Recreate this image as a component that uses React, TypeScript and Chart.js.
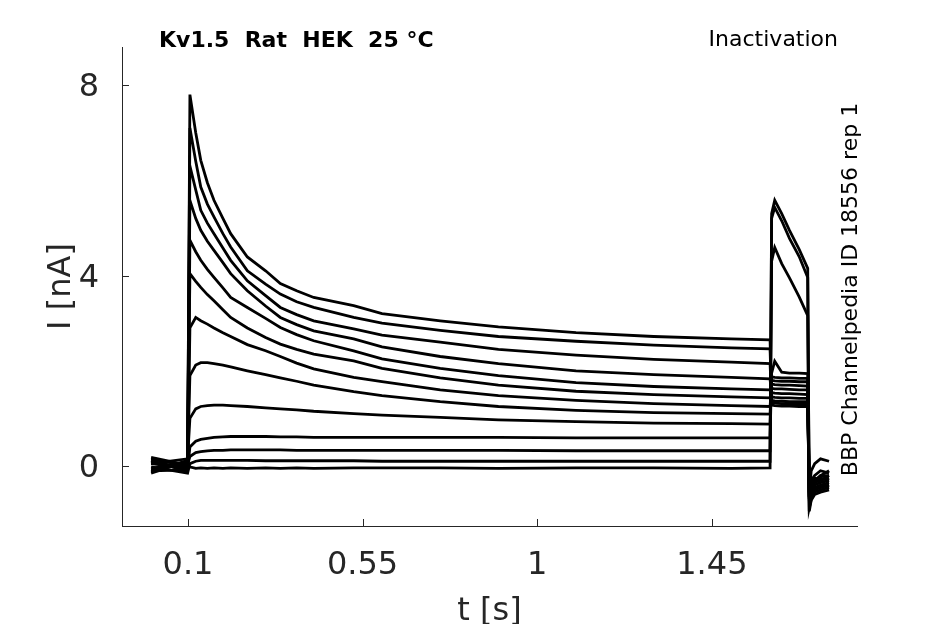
import { useEffect, useRef } from "react"
import { Chart, registerables } from "chart.js"

Chart.register(...registerables)

// sample times [s], shared by every sweep
const TIME_S = [
  0.005, 0.099, 0.105, 0.12, 0.133, 0.15, 0.167, 0.19, 0.21, 0.253, 0.3, 0.338, 0.38, 0.424, 0.527, 0.6, 0.75,
  0.9, 1.1, 1.3, 1.5, 1.6, 1.604, 1.612, 1.63, 1.65, 1.675, 1.697, 1.701, 1.706, 1.715, 1.73, 1.752,
]

// current [nA] for each sweep
const sweepA = [
  0.05, -0.05, 7.8, 7.0, 6.42, 5.95, 5.58, 5.2, 4.88, 4.39, 4.1, 3.83, 3.68, 3.54, 3.37, 3.2, 3.05, 2.92, 2.8,
  2.72, 2.67, 2.65, 1.28, 1.27, 1.26, 1.26, 1.25, 1.25, -0.6, -0.45, -0.35, -0.3, -0.25,
]
const sweepB = [
  -0.05, 0.08, 7.1, 6.4, 5.86, 5.5, 5.23, 4.88, 4.6, 4.1, 3.82, 3.61, 3.45, 3.33, 3.12, 3.0, 2.85, 2.72, 2.62,
  2.54, 2.48, 2.46, 1.33, 1.32, 1.31, 1.3, 1.3, 1.3, -0.65, -0.4, -0.3, -0.2, -0.2,
]
const sweepC = [
  0.1, -0.1, 6.3, 5.8, 5.37, 5.1, 4.88, 4.58, 4.32, 3.89, 3.58, 3.33, 3.18, 3.05, 2.88, 2.75, 2.6, 2.45, 2.33,
  2.24, 2.18, 2.15, 1.38, 1.37, 1.36, 1.35, 1.35, 1.35, -0.55, -0.5, -0.4, -0.35, -0.3,
]
const sweepD = [
  -0.12, 0.12, 5.58, 5.2, 4.95, 4.72, 4.53, 4.27, 4.04, 3.68, 3.36, 3.12, 2.97, 2.84, 2.67, 2.5, 2.3, 2.15, 2.0,
  1.92, 1.86, 1.83, 1.45, 1.44, 1.43, 1.43, 1.42, 1.42, -0.7, -0.3, -0.2, -0.1, -0.15,
]
const sweepE = [
  0.15, 0.0, 4.74, 4.5, 4.32, 4.13, 3.96, 3.74, 3.54, 3.33, 3.1, 2.91, 2.76, 2.63, 2.42, 2.25, 2.05, 1.9, 1.75,
  1.67, 1.62, 1.6, 1.54, 1.53, 1.52, 1.52, 1.51, 1.5, -0.6, -0.55, -0.45, -0.4, -0.35,
]
const sweepF = [
  -0.08, 0.05, 4.04, 3.88, 3.75, 3.6, 3.47, 3.28, 3.12, 2.9, 2.7, 2.56, 2.45, 2.35, 2.21, 2.05, 1.85, 1.7, 1.57,
  1.5, 1.45, 1.43, 1.63, 1.62, 1.62, 1.61, 1.6, 1.6, -0.5, -0.35, -0.25, -0.3, -0.2,
]
const sweepG = [
  0.12, -0.12, 2.9, 3.12, 3.05, 2.98, 2.9, 2.8, 2.72, 2.55, 2.42, 2.3, 2.16, 2.04, 1.86, 1.77, 1.6, 1.48, 1.38,
  1.31, 1.27, 1.25, 1.72, 1.71, 1.7, 1.7, 1.69, 1.68, -0.75, -0.6, -0.5, -0.45, -0.4,
]
const sweepH = [
  -0.15, 0.1, 1.9, 2.12, 2.17, 2.17, 2.15, 2.12, 2.08, 2.0, 1.92, 1.85, 1.78, 1.7, 1.56, 1.48, 1.35, 1.25, 1.17,
  1.12, 1.1, 1.09, 1.8, 1.79, 1.78, 1.78, 1.77, 1.77, -0.55, -0.1, 0.05, 0.15, 0.1,
]
const sweepI = [
  0.05, 0.15, 1.0, 1.2, 1.25, 1.27, 1.28, 1.28, 1.27, 1.25, 1.22, 1.2, 1.18, 1.15, 1.1, 1.07, 1.02, 0.97, 0.93,
  0.9, 0.89, 0.88, 1.87, 1.86, 1.85, 1.85, 1.84, 1.84, -0.65, -0.4, -0.3, -0.25, -0.3,
]
const sweepJ = [
  -0.1, -0.08, 0.4, 0.52, 0.56, 0.58, 0.6, 0.61, 0.62, 0.62, 0.62, 0.61, 0.61, 0.6, 0.6, 0.6, 0.6, 0.6, 0.59,
  0.59, 0.59, 0.59, 1.95, 2.2, 1.97, 1.95, 1.95, 1.94, -0.6, -0.5, -0.35, -0.2, -0.1,
]
const sweepK = [
  0.18, 0.02, 0.2, 0.28, 0.3, 0.32, 0.33, 0.33, 0.34, 0.34, 0.34, 0.34, 0.33, 0.33, 0.33, 0.33, 0.33, 0.33, 0.32,
  0.32, 0.32, 0.32, 4.3, 4.59, 4.25, 3.95, 3.55, 3.16, -0.8, -0.65, -0.5, -0.45, -0.4,
]
const sweepL = [
  -0.02, -0.15, 0.05, 0.1, 0.12, 0.12, 0.12, 0.12, 0.12, 0.12, 0.11, 0.11, 0.11, 0.11, 0.11, 0.1, 0.1, 0.1, 0.1,
  0.1, 0.1, 0.1, 5.2, 5.43, 5.15, 4.78, 4.4, 3.96, -0.88, -0.7, -0.55, -0.5, -0.45,
]
const sweepM = [
  0.08, -0.03, -0.02, -0.05, -0.04, -0.05, -0.04, -0.05, -0.04, -0.05, -0.04, -0.05, -0.04, -0.05, -0.04, -0.04,
  -0.04, -0.05, -0.04, -0.04, -0.05, -0.04, 5.3, 5.58, 5.3, 4.95, 4.55, 4.15, -0.95, -0.72, -0.6, -0.55, -0.5,
]

const SWEEPS = [sweepA, sweepB, sweepC, sweepD, sweepE, sweepF, sweepG, sweepH, sweepI, sweepJ, sweepK, sweepL, sweepM]

const X_TICKS = [0.1, 0.55, 1, 1.45]
const Y_TICKS = [0, 4, 8]

const TITLE = "Kv1.5  Rat  HEK  25 °C"
const PROTOCOL = "Inactivation"
const SOURCE = "BBP Channelpedia ID 18556 rep 1"

const AXIS_COLOR = "#262626"
const FONT = "'DejaVu Sans', sans-serif"

// inward tick marks and the free-standing labels
const decorations = {
  id: "decorations",
  afterDraw(chart: Chart) {
    const { ctx, chartArea, scales } = chart
    ctx.save()
    ctx.strokeStyle = AXIS_COLOR
    ctx.lineWidth = 1
    ctx.beginPath()
    X_TICKS.forEach((v) => {
      const x = Math.round(scales.x.getPixelForValue(v)) + 0.5
      ctx.moveTo(x, chartArea.bottom)
      ctx.lineTo(x, chartArea.bottom - 7)
    })
    Y_TICKS.forEach((v) => {
      const y = Math.round(scales.y.getPixelForValue(v)) + 0.5
      ctx.moveTo(chartArea.left, y)
      ctx.lineTo(chartArea.left + 7, y)
    })
    ctx.stroke()

    ctx.fillStyle = "#000"
    ctx.textBaseline = "alphabetic"
    ctx.font = `bold 22px ${FONT}`
    ctx.textAlign = "left"
    ctx.fillText(TITLE, 159, 47)

    ctx.font = `22px ${FONT}`
    ctx.textAlign = "right"
    ctx.fillText(PROTOCOL, 838, 46)

    ctx.translate(857, (chartArea.top + chartArea.bottom) / 2 + 3)
    ctx.rotate(-Math.PI / 2)
    ctx.textAlign = "center"
    ctx.fillText(SOURCE, 0, 0)
    ctx.restore()
  },
}

export default function App() {
  const canvasRef = useRef<HTMLCanvasElement | null>(null)
  const chartRef = useRef<Chart | null>(null)

  useEffect(() => {
    if (!canvasRef.current) return
    const ctx = canvasRef.current.getContext("2d")
    if (!ctx) return

    chartRef.current = new Chart(ctx, {
      type: "line",
      data: {
        datasets: SWEEPS.map((sweep, i) => ({
          label: `sweep ${i + 1}`,
          data: TIME_S.map((t, k) => ({ x: t, y: sweep[k] })),
          borderColor: "#000",
          borderWidth: 2.8,
          pointRadius: 0,
          fill: false,
          tension: 0,
        })),
      },
      options: {
        responsive: true,
        maintainAspectRatio: false,
        animation: false,
        layout: { padding: { top: 47, right: 88, left: 0, bottom: 0 } },
        plugins: {
          legend: { display: false },
          tooltip: { enabled: false },
        },
        scales: {
          x: {
            type: "linear",
            min: -0.07,
            max: 1.824,
            afterBuildTicks: (scale) => {
              scale.ticks = X_TICKS.map((value) => ({ value }))
            },
            afterFit: (scale) => {
              scale.height = 98
            },
            grid: { display: false },
            border: { display: true, color: AXIS_COLOR, width: 1 },
            ticks: {
              color: AXIS_COLOR,
              font: { family: FONT, size: 32 },
              padding: 12,
              maxRotation: 0,
              callback: (v) => String(v),
            },
            title: {
              display: true,
              text: "t [s]",
              color: AXIS_COLOR,
              font: { family: FONT, size: 32, lineHeight: 0.75 },
              padding: { top: 0, bottom: 0 },
            },
          },
          y: {
            type: "linear",
            min: -1.26,
            max: 8.8,
            afterBuildTicks: (scale) => {
              scale.ticks = Y_TICKS.map((value) => ({ value }))
            },
            afterFit: (scale) => {
              scale.width = 122
            },
            grid: { display: false },
            border: { display: true, color: AXIS_COLOR, width: 1 },
            ticks: {
              color: AXIS_COLOR,
              font: { family: FONT, size: 32 },
              padding: 15,
              labelOffset: 3,
              callback: (v) => String(v),
            },
            title: {
              display: true,
              text: "I [nA]",
              color: AXIS_COLOR,
              font: { family: FONT, size: 32 },
              padding: { top: 42, bottom: 0 },
            },
          },
        },
      },
      plugins: [decorations],
    })

    return () => {
      if (chartRef.current) {
        chartRef.current.destroy()
        chartRef.current = null
      }
    }
  }, [])

  return (
    <div style={{ position: "fixed", left: 0, top: 0, width: 945, height: 624, background: "#fff" }}>
      <canvas ref={canvasRef}></canvas>
    </div>
  )
}
